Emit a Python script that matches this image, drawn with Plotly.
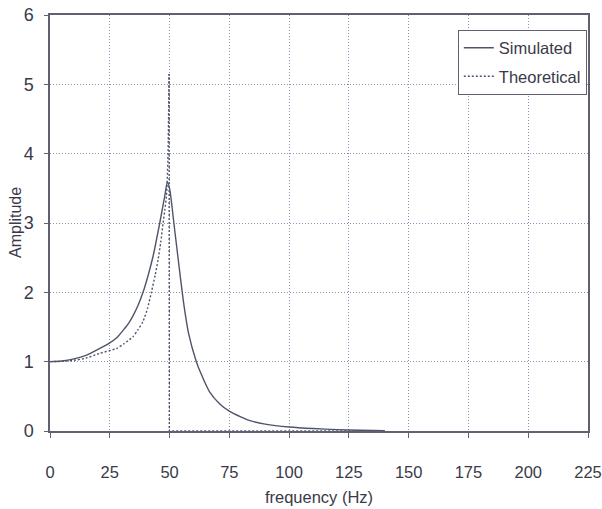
import plotly.graph_objects as go

freq_sim = [0, 5, 10, 15, 20.8, 25, 27.8, 31, 33, 34.7, 36.8, 38.9, 41, 43.1, 45.9, 48.0, 49.1, 50, 51.8, 54.3, 56, 58, 61.2, 63, 66.8, 71, 74.8, 80, 83.6, 90, 100, 110, 120, 130, 140]
amp_sim = [1.0, 1.01, 1.04, 1.09, 1.19, 1.27, 1.34, 1.47, 1.56, 1.66, 1.81, 2.0, 2.24, 2.52, 3.0, 3.39, 3.59, 3.5, 3.0, 2.28, 1.82, 1.4, 1.0, 0.84, 0.56, 0.39, 0.29, 0.2, 0.15, 0.1, 0.058, 0.035, 0.02, 0.01, 0.005]

freq_theo = [0, 5, 10, 15, 20.8, 27.8, 31, 34.7, 36.8, 38.9, 40.8, 42.4, 44, 45.2, 46.3, 47.3, 48.0, 48.7, 49.3, 49.8, 49.9, 60, 80, 100, 120, 140]
amp_theo = [1.0, 1.005, 1.02, 1.05, 1.12, 1.19, 1.26, 1.36, 1.46, 1.58, 1.77, 2.0, 2.25, 2.47, 2.72, 3.0, 3.18, 3.39, 3.9, 5.15, 0.0, 0.0, 0.0, 0.0, 0.0, 0.0]

x_ticks = [0, 25, 50, 75, 100, 125, 150, 175, 200, 225]
y_ticks = [0, 1, 2, 3, 4, 5, 6]

line_col = "#50546a"
grid_col = "#8890b8"
text_col = "#3a3a48"
font_fam = "Liberation Sans, Arial, sans-serif"

# split theoretical at the resonance drop
k = amp_theo.index(max(amp_theo))

fig = go.Figure()
fig.add_trace(go.Scatter(x=freq_sim, y=amp_sim, mode="lines", name="Simulated",
                         legendgroup="a",
                         line=dict(color=line_col, width=1.4, shape="spline", smoothing=0.8)))
fig.add_trace(go.Scatter(x=freq_theo[:k + 1], y=amp_theo[:k + 1], mode="lines", name="Theoretical",
                         legendgroup="b",
                         line=dict(color=line_col, width=1.4, dash="2px,2px", shape="spline", smoothing=0.6)))
fig.add_trace(go.Scatter(x=freq_theo[k:], y=amp_theo[k:], mode="lines", name="Theoretical",
                         legendgroup="b", showlegend=False,
                         line=dict(color=line_col, width=1.4, dash="2px,2px")))

fig.add_annotation(text="Amplitude", xref="paper", yref="paper",
                   x=(15 - 50) / 538, y=0.5, xanchor="center", yanchor="middle",
                   textangle=-90, showarrow=False, font=dict(size=16, color=text_col))

fig.update_layout(
    width=602, height=509,
    margin=dict(l=50, r=14, t=15, b=78, autoexpand=False),
    paper_bgcolor="white", plot_bgcolor="white",
    font=dict(family=font_fam, color=text_col, size=16),
    showlegend=True,
    legend=dict(x=0.758, y=0.965, xanchor="left", yanchor="top",
                bgcolor="white", bordercolor="#606070", borderwidth=1,
                font=dict(size=16.5, color=text_col), tracegroupgap=4,
                traceorder="grouped", itemwidth=30),
    xaxis=dict(range=[0, 225], tickvals=x_ticks, ticktext=[str(v) for v in x_ticks],
               showgrid=True, gridcolor=grid_col, griddash="1px,2px", gridwidth=1,
               showline=True, linecolor="#606070", linewidth=1.5, mirror=True,
               ticks="outside", ticklen=5, tickcolor="#606070", automargin=False,
               ticklabelstandoff=20, zeroline=False, tickfont=dict(size=16.5),
               title=dict(text="frequency (Hz)", font=dict(size=16.5), standoff=12)),
    yaxis=dict(range=[0, 6], tickvals=y_ticks,
               showgrid=True, gridcolor=grid_col, griddash="1px,2px", gridwidth=1,
               showline=True, linecolor="#606070", linewidth=1.5, mirror=True,
               ticks="outside", ticklen=4, tickcolor="#606070", automargin=False,
               ticklabelstandoff=7, zeroline=False, tickfont=dict(size=18)),
)

fig.write_html("out.html")
